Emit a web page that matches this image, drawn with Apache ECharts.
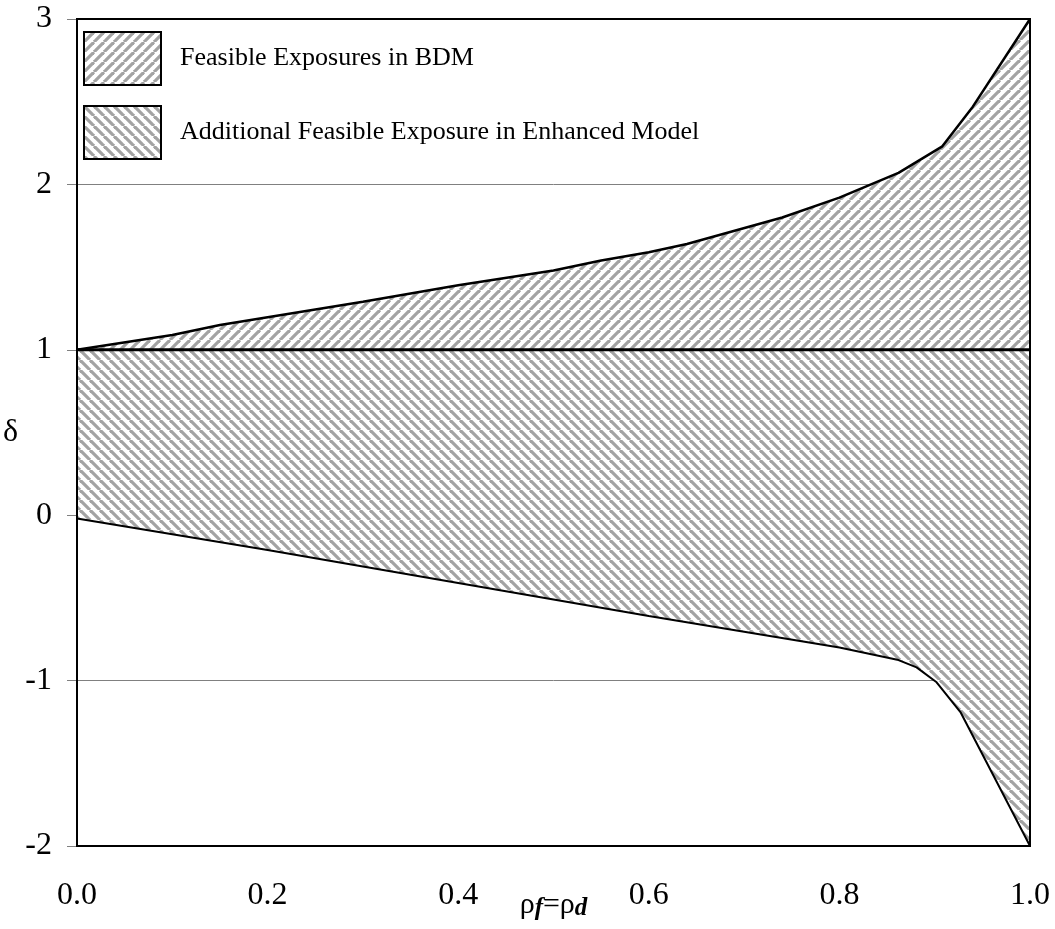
<!DOCTYPE html>
<html>
<head>
<meta charset="utf-8">
<script src="https://cdn.jsdelivr.net/npm/echarts@6/dist/echarts.min.js"></script>
<style>
html,body{margin:0;padding:0;background:#fff;}
#chart{width:1055px;height:929px;}
</style>
</head>
<body>
<div id="chart"></div>
<script>
// ---- data ----
const xUpper = [0, 0.1, 0.15, 0.3, 0.4, 0.5, 0.55, 0.6, 0.64, 0.74, 0.8, 0.862, 0.908, 0.94, 1.0];
const yUpper = [1.0, 1.09, 1.15, 1.29, 1.39, 1.48, 1.54, 1.59, 1.64, 1.80, 1.92, 2.07, 2.23, 2.47, 3.0];
const xLower = [0, 0.2, 0.4, 0.6, 0.8, 0.862, 0.881, 0.902, 0.927, 1.0];
const yLower = [-0.02, -0.21, -0.41, -0.61, -0.80, -0.876, -0.92, -1.01, -1.19, -2.0];
const xBase = [0, 1];
const yBase = [1, 1];
const seriesNames = ['Feasible Exposures in BDM', 'Additional Feasible Exposure in Enhanced Model'];
const xTicks = [0, 0.2, 0.4, 0.6, 0.8, 1.0];
const yTicks = [-2, -1, 0, 1, 2, 3];

const zip = (xs, ys) => xs.map((x, i) => [x, ys[i]]);

function makePattern(dir) {
  const c = document.createElement('canvas');
  c.width = 10; c.height = 10;
  const g = c.getContext('2d');
  g.fillStyle = '#fff';
  g.fillRect(0, 0, 10, 10);
  g.strokeStyle = '#a3a3a3';
  g.lineWidth = 3.2;
  for (const o of [-10, 0, 10]) {
    g.beginPath();
    if (dir === '/') { g.moveTo(o, 10); g.lineTo(o + 10, 0); }
    else { g.moveTo(o, 0); g.lineTo(o + 10, 10); }
    g.stroke();
  }
  return { image: c, repeat: 'repeat' };
}
const patUp = makePattern('/');
const patDown = makePattern('\\');

const FONT = "'Liberation Serif', 'Times New Roman', serif";
const chart = echarts.init(document.getElementById('chart'), null, { renderer: 'canvas' });
chart.setOption({
  animation: false,
  backgroundColor: '#fff',
  grid: { left: 77, right: 25, top: 19, bottom: 83, show: true, z: 10,
          outerBoundsMode: 'none', containLabel: false,
          borderColor: '#000', borderWidth: 2, backgroundColor: 'transparent' },
  legend: {
    left: 83, top: 31, orient: 'vertical', itemWidth: 77, itemHeight: 53, itemGap: 19, padding: 0,
    textStyle: { fontFamily: FONT, fontSize: 26, color: '#000', padding: [0, 0, 0, 14] },
    data: [
      { name: seriesNames[0], icon: 'rect', itemStyle: { color: patUp, borderColor: '#000', borderWidth: 2 } },
      { name: seriesNames[1], icon: 'rect', itemStyle: { color: patDown, borderColor: '#000', borderWidth: 2 } }
    ]
  },
  xAxis: {
    type: 'value', min: xTicks[0], max: xTicks[xTicks.length - 1], interval: 0.2,
    name: '{r|ρ}{s|f}{r|=ρ}{s|d}', nameLocation: 'middle', nameGap: 44, nameMoveOverlap: false,
    nameTextStyle: { rich: {
      r: { fontFamily: FONT, fontSize: 30, color: '#000' },
      s: { fontFamily: FONT, fontSize: 25, fontStyle: 'italic', fontWeight: 'bold', color: '#000', padding: [6, 0, 0, 0] }
    } },
    axisLine: { show: true, lineStyle: { color: '#000', width: 2 } },
    axisTick: { show: false },
    splitLine: { show: false },
    axisLabel: { fontFamily: FONT, fontSize: 32, color: '#000', margin: 34,
                 formatter: v => v.toFixed(1) }
  },
  yAxis: {
    type: 'value', min: yTicks[0], max: yTicks[yTicks.length - 1], interval: 1,
    name: 'δ', nameLocation: 'middle', nameGap: 59, nameRotate: 0, nameMoveOverlap: false,
    nameTextStyle: { fontFamily: FONT, fontSize: 32, color: '#000' },
    axisLine: { show: true, lineStyle: { color: '#000', width: 2 } },
    axisTick: { show: true, length: 10, lineStyle: { color: '#808080', width: 1 } },
    splitLine: { show: true, lineStyle: { color: '#808080', width: 1 } },
    axisLabel: { fontFamily: FONT, fontSize: 32, color: '#000', margin: 25 }
  },
  series: [
    { name: seriesNames[0], type: 'line', data: zip(xUpper, yUpper), symbol: 'none',
      lineStyle: { color: '#000', width: 2.5 }, itemStyle: { color: '#000' },
      areaStyle: { color: patUp, opacity: 1, origin: 1 }, z: 3 },
    { name: seriesNames[1], type: 'line', data: zip(xLower, yLower), symbol: 'none',
      lineStyle: { color: '#000', width: 2 }, itemStyle: { color: '#000' },
      areaStyle: { color: patDown, opacity: 1, origin: 1 }, z: 3 },
    { name: 'base', type: 'line', data: zip(xBase, yBase), symbol: 'none',
      lineStyle: { color: '#000', width: 3 }, z: 4 }
  ]
});
</script>
</body>
</html>
